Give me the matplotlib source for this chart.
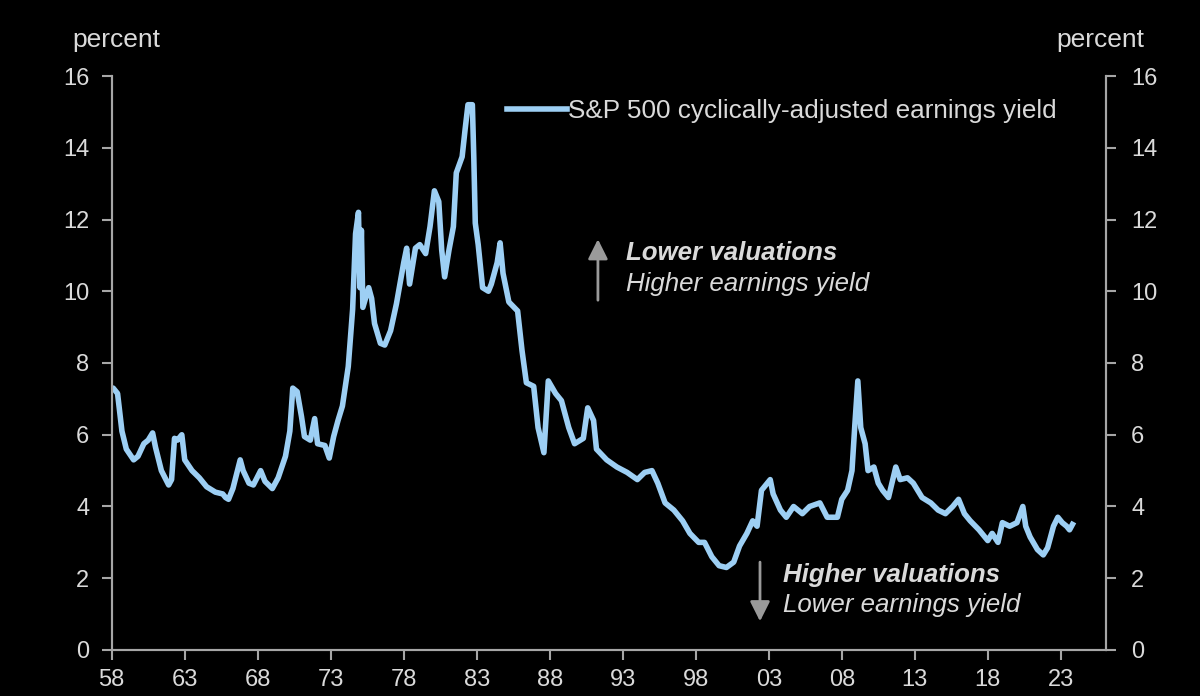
import matplotlib.pyplot as plt

plt.rcParams['font.family'] = ['Liberation Sans', 'DejaVu Sans']

# S&P 500 cyclically-adjusted earnings yield, percent
years = [1958.0, 1958.1, 1958.4, 1958.7, 1959.0, 1959.5, 1959.8, 1960.2, 1960.5, 1960.8,
         1961.0, 1961.4, 1961.9, 1962.1, 1962.3, 1962.5, 1962.8, 1963.0, 1963.5, 1964.0,
         1964.5, 1965.1, 1965.6, 1965.8, 1966.0, 1966.3, 1966.8, 1967.0, 1967.4, 1967.7,
         1968.2, 1968.5, 1969.0, 1969.4, 1969.9, 1970.2, 1970.4, 1970.7, 1971.0, 1971.2,
         1971.6, 1971.9, 1972.1, 1972.6, 1972.9, 1973.2, 1973.5, 1973.8, 1974.2, 1974.5,
         1974.7, 1974.9, 1975.0, 1975.1, 1975.2, 1975.6, 1975.8, 1976.0, 1976.4, 1976.7,
         1977.1, 1977.5, 1978.0, 1978.2, 1978.4, 1978.8, 1979.1, 1979.5, 1979.8, 1980.1,
         1980.4, 1980.6, 1980.8, 1981.1, 1981.4, 1981.6, 1982.0, 1982.2, 1982.4, 1982.7,
         1982.8, 1982.9, 1983.1, 1983.4, 1983.8, 1984.0, 1984.4, 1984.6, 1984.8, 1985.2,
         1985.8, 1986.1, 1986.4, 1986.9, 1987.2, 1987.6, 1987.9, 1988.4, 1988.8, 1989.3,
         1989.7, 1990.3, 1990.6, 1991.0, 1991.2, 1991.9, 1992.6, 1993.3, 1994.0, 1994.5,
         1995.0, 1995.4, 1995.9, 1996.5, 1997.1, 1997.6, 1998.2, 1998.6, 1999.1, 1999.6,
         2000.1, 2000.6, 2001.0, 2001.5, 2001.9, 2002.2, 2002.5, 2003.1, 2003.3, 2003.8,
         2004.2, 2004.7, 2005.3, 2005.8, 2006.5, 2007.0, 2007.7, 2008.0, 2008.4, 2008.7,
         2008.9, 2009.1, 2009.3, 2009.6, 2009.8, 2010.2, 2010.5, 2010.8, 2011.2, 2011.7,
         2012.0, 2012.5, 2012.9, 2013.5, 2014.1, 2014.6, 2015.1, 2015.6, 2016.0, 2016.4,
         2016.8, 2017.4, 2018.0, 2018.3, 2018.7, 2019.0, 2019.5, 2020.0, 2020.4, 2020.6,
         2020.9, 2021.4, 2021.8, 2022.1, 2022.5, 2022.8, 2023.1, 2023.4, 2023.6, 2023.8]
cape_yield = [7.3, 7.3, 7.15, 6.1, 5.6, 5.3, 5.4, 5.75, 5.85, 6.05,
              5.65, 5.0, 4.6, 4.75, 5.9, 5.85, 6.0, 5.3, 5.0, 4.8,
              4.55, 4.4, 4.35, 4.25, 4.2, 4.5, 5.3, 5.0, 4.65, 4.6,
              5.0, 4.7, 4.5, 4.8, 5.4, 6.1, 7.3, 7.2, 6.5, 5.95,
              5.85, 6.45, 5.75, 5.7, 5.35, 5.95, 6.4, 6.8, 7.9, 9.5,
              11.6, 12.2, 10.1, 11.7, 9.55, 10.1, 9.8, 9.1, 8.55, 8.5,
              8.9, 9.65, 10.8, 11.2, 10.2, 11.2, 11.3, 11.05, 11.8, 12.8,
              12.5, 11.15, 10.4, 11.15, 11.8, 13.3, 13.75, 14.5, 15.2, 15.2,
              13.7, 11.9, 11.3, 10.1, 10.0, 10.2, 10.8, 11.35, 10.5, 9.7,
              9.45, 8.35, 7.45, 7.35, 6.2, 5.5, 7.5, 7.15, 6.95, 6.2,
              5.75, 5.9, 6.75, 6.4, 5.6, 5.3, 5.1, 4.95, 4.75, 4.95,
              5.0, 4.65, 4.1, 3.9, 3.6, 3.25, 3.0, 3.0, 2.6, 2.35,
              2.3, 2.45, 2.9, 3.25, 3.6, 3.45, 4.45, 4.75, 4.35, 3.9,
              3.7, 4.0, 3.8, 4.0, 4.1, 3.7, 3.7, 4.2, 4.45, 5.0,
              6.3, 7.5, 6.2, 5.75, 5.0, 5.1, 4.65, 4.45, 4.25, 5.1,
              4.75, 4.8, 4.65, 4.25, 4.1, 3.9, 3.8, 4.0, 4.2, 3.8,
              3.6, 3.35, 3.05, 3.25, 3.0, 3.55, 3.45, 3.55, 4.0, 3.45,
              3.15, 2.8, 2.65, 2.85, 3.45, 3.7, 3.55, 3.45, 3.35, 3.5]

tick_years = list(range(1958, 2024, 5))
tick_labels = ['%02d' % (y % 100) for y in tick_years]

fg = '#dadada'
spine_col = '#a6a6a6'
line_col = '#9dcff4'
arrow_col = '#9a9a9a'

fig = plt.figure(figsize=(12, 6.96), dpi=100, facecolor='black')
ax = fig.add_axes([0.0931, 0.0661, 0.8286, 0.8247])
ax.set_facecolor('black')
ax.plot(years, cape_yield, color=line_col, lw=4, solid_joinstyle='round',
        label='S&P 500 cyclically-adjusted earnings yield')

ax.set_xlim(1958, 2026.1)
ax.set_ylim(0, 16)
ax.set_xticks(tick_years)
ax.set_xticklabels(tick_labels)
ax.set_yticks(range(0, 17, 2))

ax2 = ax.twinx()
ax2.set_ylim(0, 16)
ax2.set_yticks(range(0, 17, 2))

for a in (ax, ax2):
    for s in a.spines.values():
        s.set_color(spine_col)
        s.set_linewidth(1.5)
    a.spines['top'].set_visible(False)
    a.tick_params(colors=spine_col, labelcolor=fg, labelsize=17, length=7, width=1.5)
ax.tick_params(axis='y', pad=9)
ax.tick_params(axis='x', pad=7)
ax2.tick_params(axis='y', pad=11)

fig.text(0.097, 0.943, 'percent', color=fg, fontsize=19, ha='center', va='center')
fig.text(0.9167, 0.943, 'percent', color=fg, fontsize=19, ha='center', va='center')

ax.legend(loc='center left', bbox_to_anchor=(0.3976, 0.939), frameon=False,
          fontsize=18.8, labelcolor=fg, handlelength=2.3, handletextpad=0.05,
          borderpad=0, borderaxespad=0)

arrow = dict(arrowstyle='-|>,head_length=0.6,head_width=0.3', color=arrow_col,
             lw=2, mutation_scale=20, shrinkA=0, shrinkB=0)

ax.annotate('', xy=(1991.3, 11.45), xytext=(1991.3, 9.75), arrowprops=arrow)
ax.text(1993.2, 11.06, 'Lower valuations', color=fg, fontsize=18.6, style='italic',
        weight='bold', va='center')
ax.text(1993.2, 10.2, 'Higher earnings yield', color=fg, fontsize=18.6, style='italic',
        va='center')

ax.annotate('', xy=(2002.4, 0.8), xytext=(2002.4, 2.45), arrowprops=arrow)
ax.text(2004.0, 2.09, 'Higher valuations', color=fg, fontsize=18.6, style='italic',
        weight='bold', va='center')
ax.text(2004.0, 1.25, 'Lower earnings yield', color=fg, fontsize=18.6, style='italic',
        va='center')

fig.savefig('out.png', dpi=100, facecolor='black')
